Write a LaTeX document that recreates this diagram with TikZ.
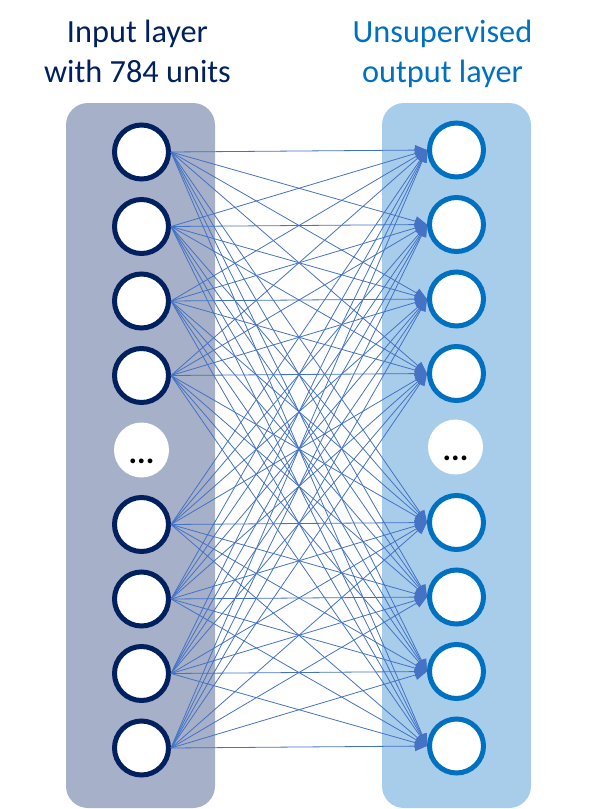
\documentclass[tikz,border=0pt]{standalone}
\usepackage{fontspec}
\setmainfont{Carlito}
\usetikzlibrary{arrows.meta}
\definecolor{navyin}{HTML}{002060}
\definecolor{blueout}{HTML}{0070C0}
\definecolor{linkblue}{HTML}{4472C4}
\definecolor{panelin}{RGB}{166,176,200}
\definecolor{panelout}{RGB}{168,205,235}
\tikzset{
  unitin/.style={circle,draw=navyin,line width=5pt,fill=white,minimum size=54pt,inner sep=0pt},
  unitout/.style={unitin,draw=blueout},
  dotsunit/.style={circle,fill=white,minimum size=55pt,inner sep=0pt,text height=26pt,text depth=0pt,font=\fontsize{32}{32}\selectfont\bfseries},
  link/.style={draw=linkblue,line width=0.8pt,-{Triangle[length=12pt,width=10pt]}},
  title/.style={align=center,font=\fontsize{32.3}{40}\selectfont,anchor=base}
}
\begin{document}
\begin{tikzpicture}[x=1pt,y=-1pt]
\useasboundingbox (0,0) rectangle (597,809);
% layer panels
\fill[panelin,rounded corners=22pt](66,103) rectangle (215,808);
\fill[panelout,rounded corners=22pt](382,103) rectangle (531,808);
% titles
\node[title,text=navyin] (titlein) at (137.5,82) {Input layer\\with 784 units};
\node[title,text=blueout] (titleout) at (442.5,82) {Unsupervised\\output layer};
% units
\foreach \i/\y in {1/152,2/226.5,3/301,4/375.5,5/524.5,6/599,7/673.5,8/748}
  \node[unitin] (in\i) at (141.5,\y) {};
\foreach \i/\y in {1/150,2/224.5,3/299,4/373.5,5/522.5,6/597,7/671.5,8/746}
  \node[unitout] (out\i) at (456.5,\y) {};
\node[dotsunit] (dotsin) at (141.5,450) {...};
\node[dotsunit] (dotsout) at (455.5,447) {...};
% all-to-all links
\foreach \i in {1,...,8}
  \foreach \j in {1,...,8}
    \draw[link] (in\i.east) -- (out\j.west);
\end{tikzpicture}
\end{document}
